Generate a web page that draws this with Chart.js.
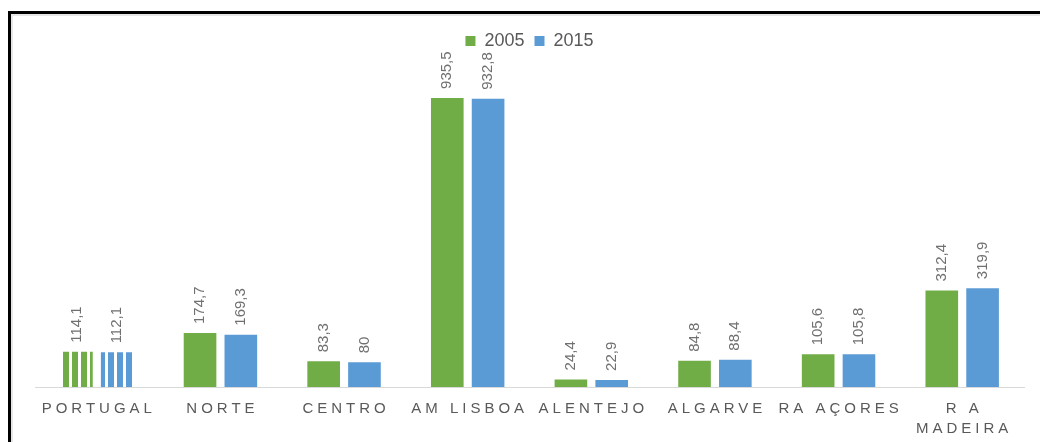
<!DOCTYPE html>
<html>
<head>
<meta charset="utf-8">
<script src="https://cdn.jsdelivr.net/npm/chart.js@4/dist/chart.umd.min.js"></script>
<style>
  html, body { margin: 0; padding: 0; background: #fff; }
  #wrap { position: relative; width: 1040px; height: 442px; }
  #frame {
    position: absolute; left: 8px; top: 11px; right: 0; bottom: 0;
    border-top: 3px solid #000; border-left: 3px solid #000;
    box-shadow: inset 2px 2px 0 #e6e6e6;
    pointer-events: none;
  }
</style>
</head>
<body>
<div id="wrap">
  <canvas id="chart" width="1040" height="442"></canvas>
  <div id="frame"></div>
</div>
<script>
const regions = [["PORTUGAL"], ["NORTE"], ["CENTRO"], ["AM LISBOA"], ["ALENTEJO"], ["ALGARVE"], ["RA AÇORES"], ["R A", "MADEIRA"]];
const values2005 = [114.1, 174.7, 83.3, 935.5, 24.4, 84.8, 105.6, 312.4];
const values2015 = [112.1, 169.3, 80, 932.8, 22.9, 88.4, 105.8, 319.9];
const seriesNames = ["2005", "2015"];

const green = "#70ad47";
const blue = "#5b9bd5";
const grey = "#595959";
const seriesColors = [green, blue];

// vertical stripes for the Portugal bars
const makeStripes = (color) => {
    let c = document.createElement("canvas");
    c.width = 9;
    c.height = 4;
    let cx = c.getContext("2d");
    cx.fillStyle = color;
    cx.fillRect(0, 0, 6, 4);
    return cx.createPattern(c, "repeat");
};
const greenStripes = makeStripes(green);
const blueStripes = makeStripes(blue);

// leave a gap between legend and bars
const legendGap = {
    id: "legendGap",
    beforeInit(chart) {
        const fit = chart.legend.fit;
        chart.legend.fit = function () {
            fit.bind(chart.legend)();
            this.height += 18;
        };
    }
};

// rotated value labels above the bars
const valueLabels = {
    id: "valueLabels",
    afterDatasetsDraw(chart) {
        const ctx = chart.ctx;
        chart.data.datasets.forEach((ds, di) => {
            chart.getDatasetMeta(di).data.forEach((bar, i) => {
                ctx.save();
                ctx.translate(bar.x, bar.y - 9);
                ctx.rotate(-Math.PI / 2);
                ctx.font = "15px 'Liberation Sans', sans-serif";
                ctx.fillStyle = "#707070";
                ctx.textAlign = "left";
                ctx.textBaseline = "middle";
                ctx.fillText(String(ds.data[i]).replace(".", ","), 0, 0);
                ctx.restore();
            });
        });
    }
};

// spaced-out category names under the axis
const categoryLabels = {
    id: "categoryLabels",
    afterDraw(chart) {
        const ctx = chart.ctx;
        const xs = chart.scales.x;
        const spacing = 4;
        ctx.save();
        ctx.font = "15px 'Liberation Sans', sans-serif";
        ctx.fillStyle = grey;
        ctx.textAlign = "left";
        ctx.textBaseline = "middle";
        ctx.letterSpacing = spacing + "px";
        regions.forEach((lines, i) => {
            const x = xs.getPixelForValue(i);
            lines.forEach((line, j) => {
                const w = ctx.measureText(line).width - spacing;
                ctx.fillText(line, x - w / 2, chart.chartArea.bottom + 22 + j * 20);
            });
        });
        ctx.restore();
    }
};

new Chart(document.getElementById("chart"), {
    type: "bar",
    data: {
        labels: regions.map(r => r.join(" ")),
        datasets: [{
            label: seriesNames[0],
            data: values2005,
            backgroundColor: c => c.dataIndex === 0 ? greenStripes : green,
            categoryPercentage: 0.66,
            barPercentage: 0.8
        }, {
            label: seriesNames[1],
            data: values2015,
            backgroundColor: c => c.dataIndex === 0 ? blueStripes : blue,
            categoryPercentage: 0.66,
            barPercentage: 0.8
        }]
    },
    options: {
        responsive: false,
        animation: false,
        layout: {
            padding: { left: 35, right: 16, top: 22, bottom: 55 }
        },
        plugins: {
            legend: {
                position: "top",
                labels: {
                    boxWidth: 10,
                    boxHeight: 10,
                    padding: 10,
                    color: grey,
                    font: { size: 18, family: "'Liberation Sans', sans-serif" },
                    generateLabels: chart => Chart.defaults.plugins.legend.labels.generateLabels(chart).map((item, i) => ({
                        ...item,
                        fillStyle: seriesColors[i],
                        strokeStyle: seriesColors[i],
                        lineWidth: 0
                    }))
                }
            },
            tooltip: { enabled: false }
        },
        scales: {
            x: {
                grid: { display: false, drawTicks: false },
                ticks: { display: false },
                border: { color: "#d9d9d9", width: 1 }
            },
            y: {
                display: false,
                min: 0,
                max: 1000
            }
        }
    },
    plugins: [legendGap, valueLabels, categoryLabels]
});
</script>
</body>
</html>
